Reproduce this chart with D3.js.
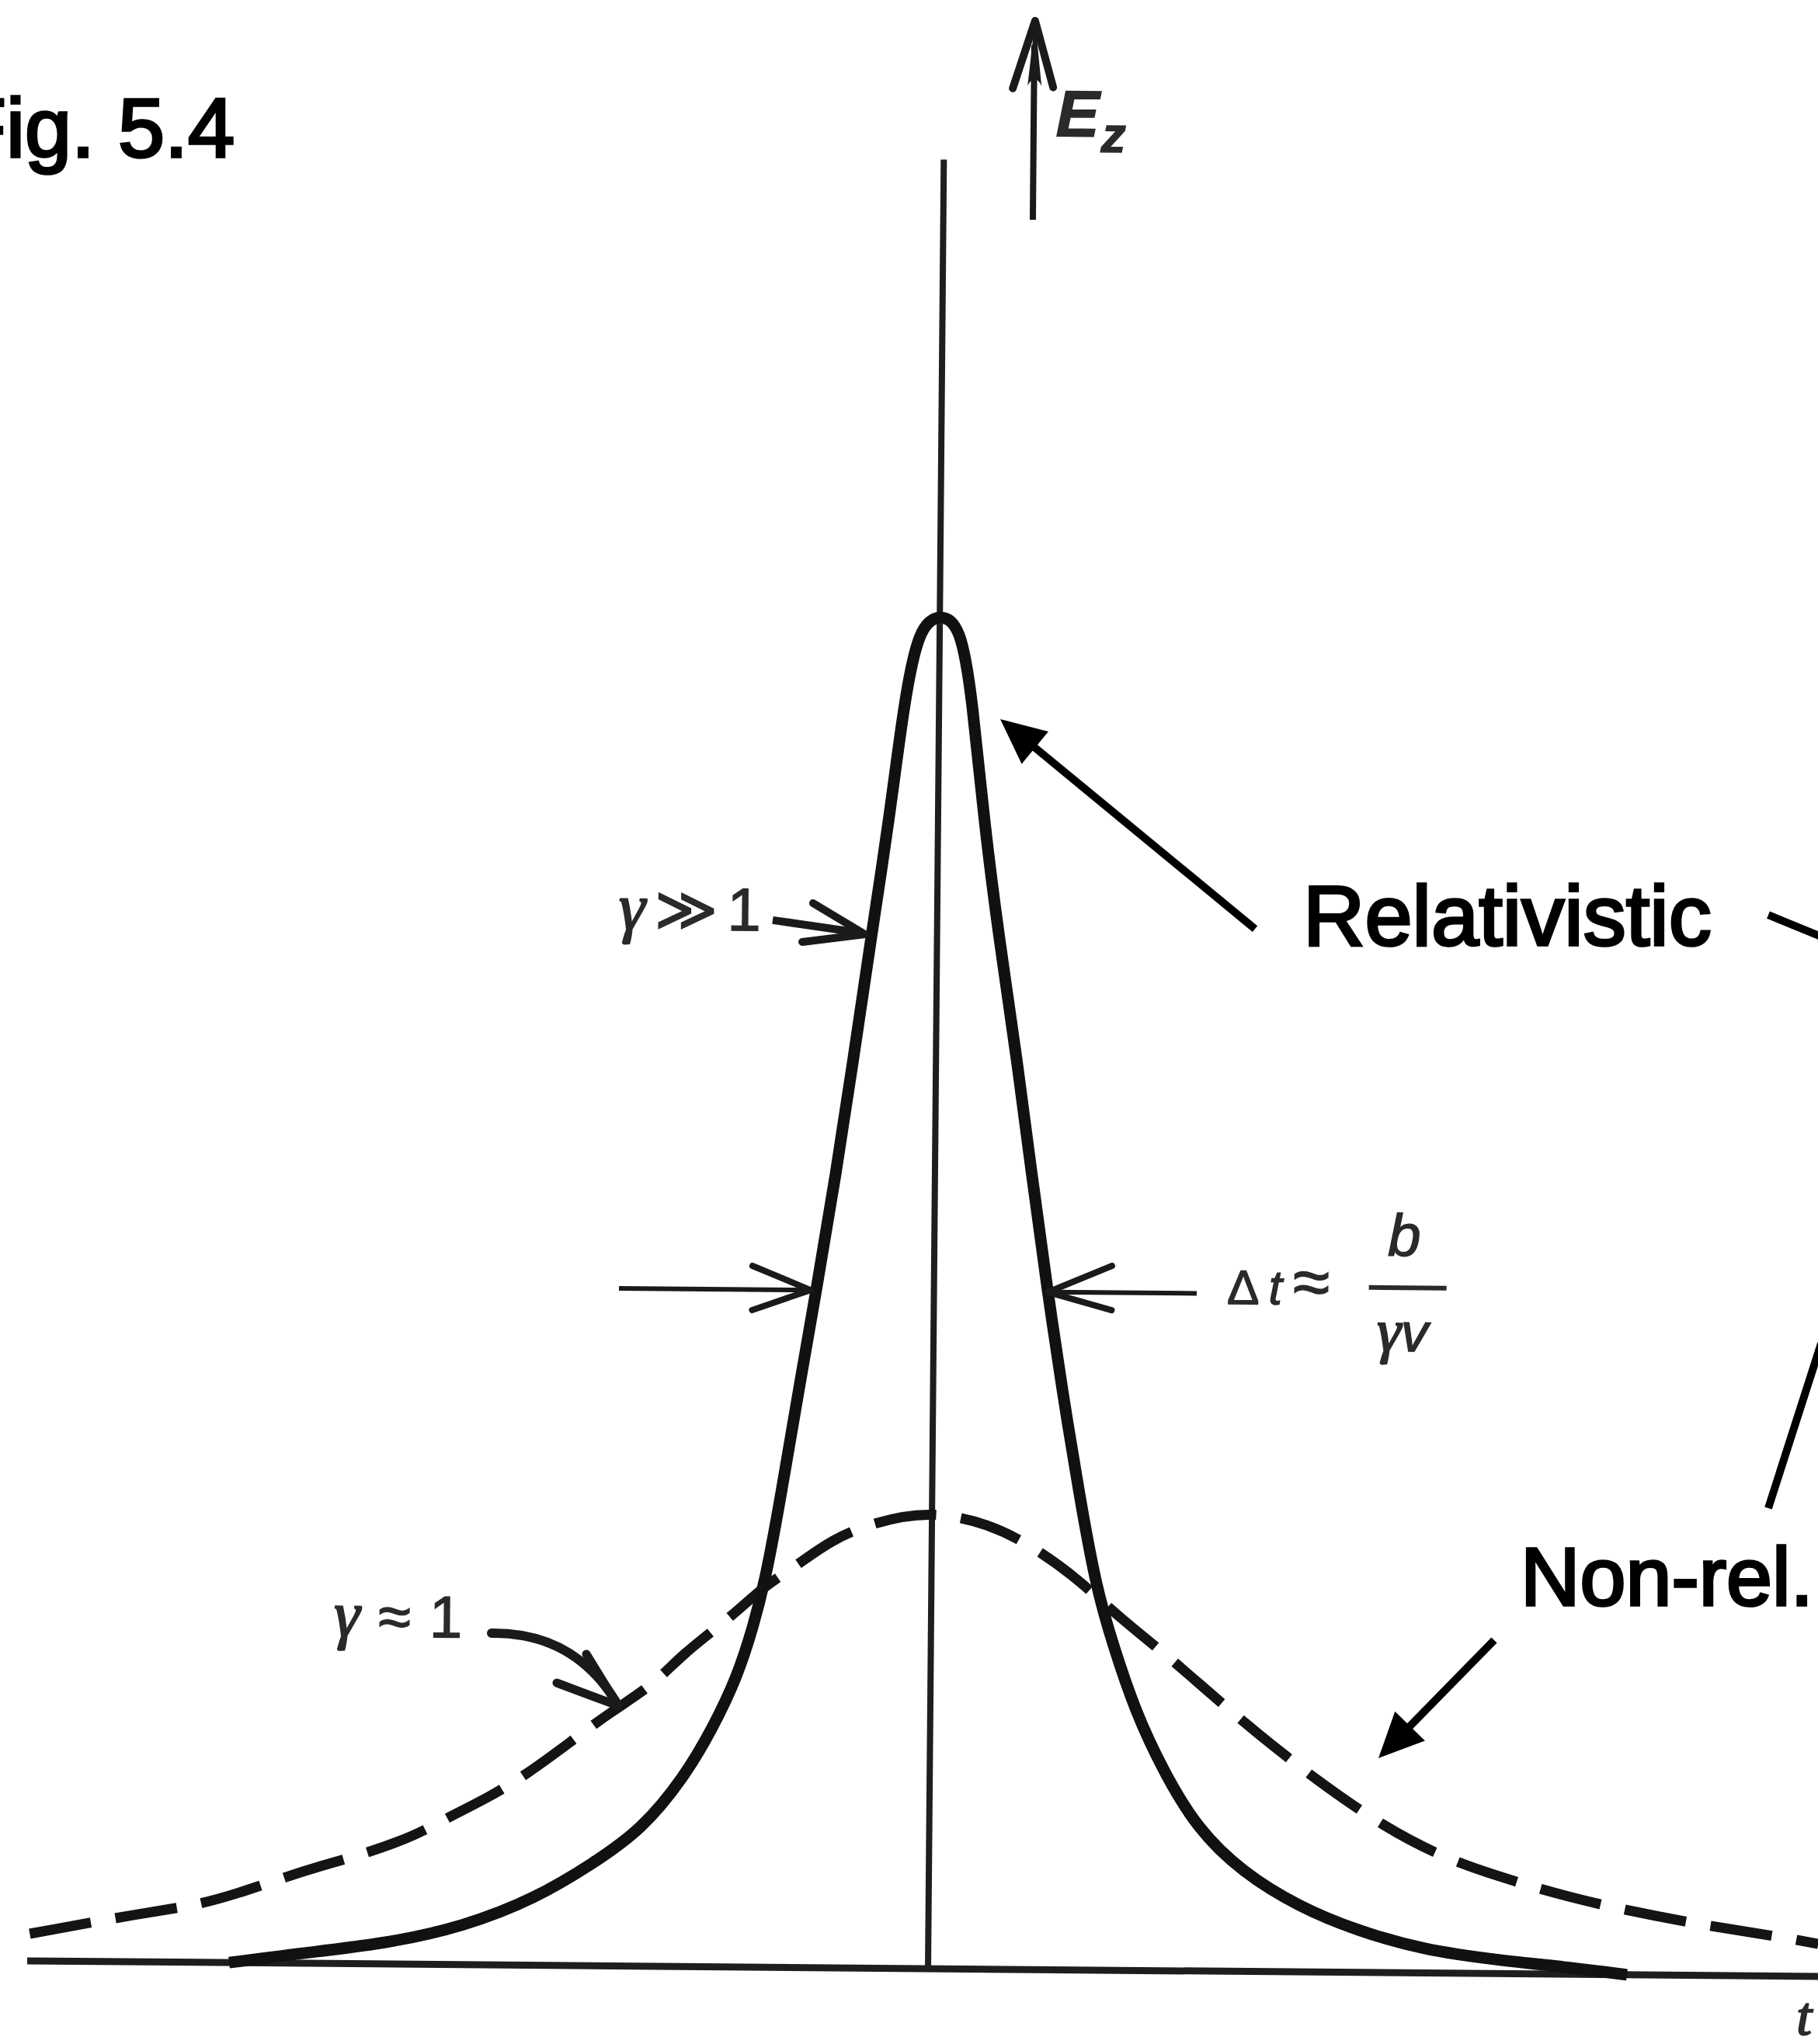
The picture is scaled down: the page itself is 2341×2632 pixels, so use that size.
<!DOCTYPE html>
<html>
<head>
<meta charset="utf-8">
<script src="https://cdn.jsdelivr.net/npm/d3@7/dist/d3.min.js"></script>
<style>
  html, body { margin: 0; padding: 0; background: #fff; }
  svg { display: block; }
  .cap { font-family: "Liberation Sans", Arial, sans-serif; fill: #000; stroke: #000; stroke-width: 3.6; paint-order: stroke; }
  .scan { font-family: "Liberation Sans", "DejaVu Sans", sans-serif; fill: #2a2a2a; stroke: #2a2a2a; stroke-width: 1.4; }
  .it { font-style: italic; }
  .gr { font-family: "Liberation Serif", "DejaVu Serif", serif; font-style: italic; stroke-width: 2.2; }
</style>
</head>
<body>
<svg id="fig" width="2341" height="2632"></svg>
<script>
// Field pulse E_z(t) of a passing charge, redrawn from a scanned textbook figure.
// t is in arbitrary units (0 = closest approach), E is normalised to the
// relativistic peak.

// relativistic curve (gamma >> 1), solid
var relT = [-9.0, -8.6, -8.12, -6.98, -5.99, -5.07, -4.31, -3.70, -3.17, -2.80, -2.49, -2.29, -2.13,
            -1.95, -1.72, -1.50, -1.28, -1.06, -0.85, -0.63, -0.45, -0.27, 0,
            0.27, 0.43, 0.59, 0.80, 1.04, 1.25, 1.45, 1.65, 1.90, 2.12, 2.34, 2.64, 3.01,
            3.45, 4.04, 4.77, 5.51, 6.38, 7.33, 8.27, 8.7, 9.0];
var relE = [0, 0.003, 0.007, 0.015, 0.028, 0.049, 0.076, 0.101, 0.139, 0.176, 0.214, 0.251, 0.288,
            0.347, 0.430, 0.505, 0.584, 0.672, 0.760, 0.847, 0.935, 0.990, 1.000,
            0.992, 0.936, 0.848, 0.760, 0.673, 0.585, 0.506, 0.432, 0.349, 0.283, 0.241, 0.191, 0.147,
            0.105, 0.073, 0.048, 0.031, 0.017, 0.010, 0.005, 0.002, 0];

// non-relativistic curve (gamma ~ 1), dashed
var nonT = [-11.57, -10.12, -9.43, -8.90, -8.36, -7.83, -7.22, -6.61, -6.15, -5.69, -5.16, -4.63,
            -4.10, -3.56, -3.19, -2.58, -2.16, -1.75, -1.29, -0.75, -0.03,
            0.73, 1.31, 1.90, 2.41, 3.08, 3.66, 4.40, 5.12, 5.85, 6.59, 7.32, 8.04, 8.77,
            9.87, 10.97, 11.46];
var nonE = [0.020, 0.036, 0.042, 0.051, 0.062, 0.072, 0.082, 0.095, 0.110, 0.123, 0.142, 0.165,
            0.188, 0.208, 0.231, 0.258, 0.281, 0.296, 0.316, 0.329, 0.338,
            0.329, 0.312, 0.288, 0.261, 0.231, 0.202, 0.167, 0.136, 0.108, 0.086, 0.072, 0.060, 0.050,
            0.038, 0.029, 0.024];

// axis extents
var baseT = [-11.6, 12.2];
var axisTopE = 1.335;

var svg = d3.select('#fig');
var x = d3.scaleLinear().domain([-12, 12]).range([-5, 2395]);
var y = d3.scaleLinear().domain([0, 1]).range([2535, 790]);
function pt(t, e) { return [x(t), y(e)]; }

// the scanned drawing sits about half a degree off square
var scan = svg.append('g').attr('transform', 'rotate(0.5,' + x(0) + ',' + y(0) + ')');
var over = svg.append('g');

scan.append('line')
  .attr('x1', x(baseT[0])).attr('x2', x(baseT[1]))
  .attr('y1', y(0)).attr('y2', y(0))
  .attr('stroke', '#1e1e1e').attr('stroke-width', 9);
scan.append('line')
  .attr('x1', x(0)).attr('x2', x(0))
  .attr('y1', y(0)).attr('y2', y(axisTopE))
  .attr('stroke', '#1e1e1e').attr('stroke-width', 8);

var line = d3.line()
  .x(function(d) { return x(d[0]); })
  .y(function(d) { return y(d[1]); })
  .curve(d3.curveBasis);

scan.append('path')
  .datum(d3.zip(nonT, nonE))
  .attr('d', line)
  .attr('fill', 'none').attr('stroke', '#141414').attr('stroke-width', 13)
  .attr('stroke-dasharray', '80,32');

scan.append('path')
  .datum(d3.zip(relT, relE))
  .attr('d', line)
  .attr('fill', 'none').attr('stroke', '#111').attr('stroke-width', 15)
  .attr('stroke-linejoin', 'round');

// ---- labels that belong to the scan ----
function barbs(g, a, tip, b, w) {
  g.append('path')
    .attr('d', 'M' + a + 'L' + tip + 'L' + b)
    .attr('fill', 'none').attr('stroke', '#1a1a1a').attr('stroke-width', w)
    .attr('stroke-linejoin', 'round').attr('stroke-linecap', 'round');
}
function seg(g, a, b, w, col) {
  g.append('line').attr('x1', a[0]).attr('y1', a[1]).attr('x2', b[0]).attr('y2', b[1])
    .attr('stroke', col || '#1a1a1a').attr('stroke-width', w);
}

// E_z arrow
seg(scan, pt(1.153, 1.2912), pt(1.153, 1.42), 8);
barbs(scan, pt(0.88, 1.388), pt(1.16, 1.438), pt(1.40, 1.389), 10);
scan.append('path')
  .attr('d', 'M' + pt(1.16, 1.438) + 'L' + pt(1.07, 1.39) + 'Q' + pt(1.16, 1.40) + ' ' + pt(1.25, 1.39) + 'Z')
  .attr('fill', '#1a1a1a');
var ez = scan.append('text').attr('class', 'scan it')
  .attr('x', x(1.44)).attr('y', y(1.353))
  .attr('font-size', 84).attr('font-weight', 'bold');
ez.append('tspan').text('E');
ez.append('tspan').attr('font-size', 64).attr('dy', 20).attr('dx', 2).text('z');

// gamma >> 1
var g1 = scan.append('text').attr('class', 'scan')
  .attr('x', x(-4.10)).attr('y', y(0.7648)).attr('font-size', 78);
g1.append('tspan').attr('class', 'gr').attr('font-size', 86).text('γ');
g1.append('tspan').attr('dx', 12).text('≫');
g1.append('tspan').attr('dx', 12).text('1');
seg(scan, pt(-2.118, 0.7727), pt(-1.0, 0.764), 10);
barbs(scan, pt(-1.60, 0.7855), pt(-0.93, 0.7629), pt(-1.735, 0.7568), 10);

// width arrows at half maximum
seg(scan, pt(-4.056, 0.50), pt(-1.62, 0.50), 6);
barbs(scan, pt(-2.34, 0.5175), pt(-1.59, 0.50), pt(-2.34, 0.4848), 8);
seg(scan, pt(1.50, 0.50), pt(3.384, 0.50), 6);
barbs(scan, pt(2.29, 0.5198), pt(1.47, 0.50), pt(2.29, 0.4871), 8);

var dt = scan.append('text').attr('class', 'scan')
  .attr('x', x(3.775)).attr('y', y(0.4925)).attr('font-size', 62);
dt.append('tspan').text('Δ');
dt.append('tspan').attr('class', 'it').attr('dx', 12).text('t');
dt.append('tspan').attr('dx', 14).attr('font-size', 86).text('≈');
seg(scan, pt(5.60, 0.5055), pt(6.60, 0.5055), 6, '#2a2a2a');
scan.append('text').attr('class', 'scan it')
  .attr('x', x(6.05)).attr('y', y(0.5291)).attr('text-anchor', 'middle')
  .attr('font-size', 76).text('b');
var gv = scan.append('text').attr('class', 'scan')
  .attr('x', x(6.04)).attr('y', y(0.4586)).attr('text-anchor', 'middle')
  .attr('font-size', 70);
gv.append('tspan').attr('class', 'gr').attr('font-size', 78).text('γ');
gv.append('tspan').attr('class', 'it').text('v');

// gamma ~ 1 with curved arrow
var g2 = scan.append('text').attr('class', 'scan')
  .attr('x', x(-7.687)).attr('y', y(0.2414)).attr('font-size', 76);
g2.append('tspan').attr('class', 'gr').attr('font-size', 84).text('γ');
g2.append('tspan').attr('dx', 24).text('≈');
g2.append('tspan').attr('dx', 24).text('1');
scan.append('path')
  .attr('d', 'M' + pt(-5.658, 0.2448) + 'Q' + pt(-4.6, 0.246) + ' ' + pt(-4.05, 0.195))
  .attr('fill', 'none').attr('stroke', '#1a1a1a').attr('stroke-width', 12)
  .attr('stroke-linecap', 'round');
barbs(scan, pt(-4.435, 0.2299), pt(-4.02, 0.192), pt(-4.812, 0.2085), 11);

// t label, mostly off the right edge
scan.append('text').attr('class', 'scan gr')
  .attr('x', x(11.19)).attr('y', y(-0.043)).attr('font-size', 70).text('t');

// ---- slide annotations on top (not rotated) ----
function arrow(g, from, tip, w, len, half) {
  var dx = tip[0] - from[0], dy = tip[1] - from[1];
  var d = Math.sqrt(dx * dx + dy * dy), ux = dx / d, uy = dy / d;
  var bx = tip[0] - ux * len, by = tip[1] - uy * len;
  seg(g, from, [bx + ux * 4, by + uy * 4], w, '#000');
  g.append('path')
    .attr('d', 'M' + tip + 'L' + [bx - uy * half, by + ux * half] + 'L' + [bx + uy * half, by - ux * half] + 'Z')
    .attr('fill', '#000');
}

arrow(over, pt(4.21, 0.7673), pt(0.93, 0.9221), 10, 58, 27);
seg(over, pt(10.82, 0.7776), pt(11.5, 0.7616), 10, '#000');
arrow(over, pt(7.29, 0.2424), pt(5.80, 0.1553), 10, 58, 27);
seg(over, pt(10.82, 0.3398), pt(11.5, 0.4613), 10, '#000');

over.append('text').attr('class', 'cap')
  .attr('x', x(4.83)).attr('y', y(0.7553)).attr('font-size', 110).text('Relativistic');
over.append('text').attr('class', 'cap')
  .attr('x', x(7.63)).attr('y', y(0.2682)).attr('font-size', 106).text('Non-rel.');
over.append('text').attr('class', 'cap')
  .attr('x', -58).attr('y', 202).attr('font-size', 108).text('Fig. 5.4');
</script>
</body>
</html>
